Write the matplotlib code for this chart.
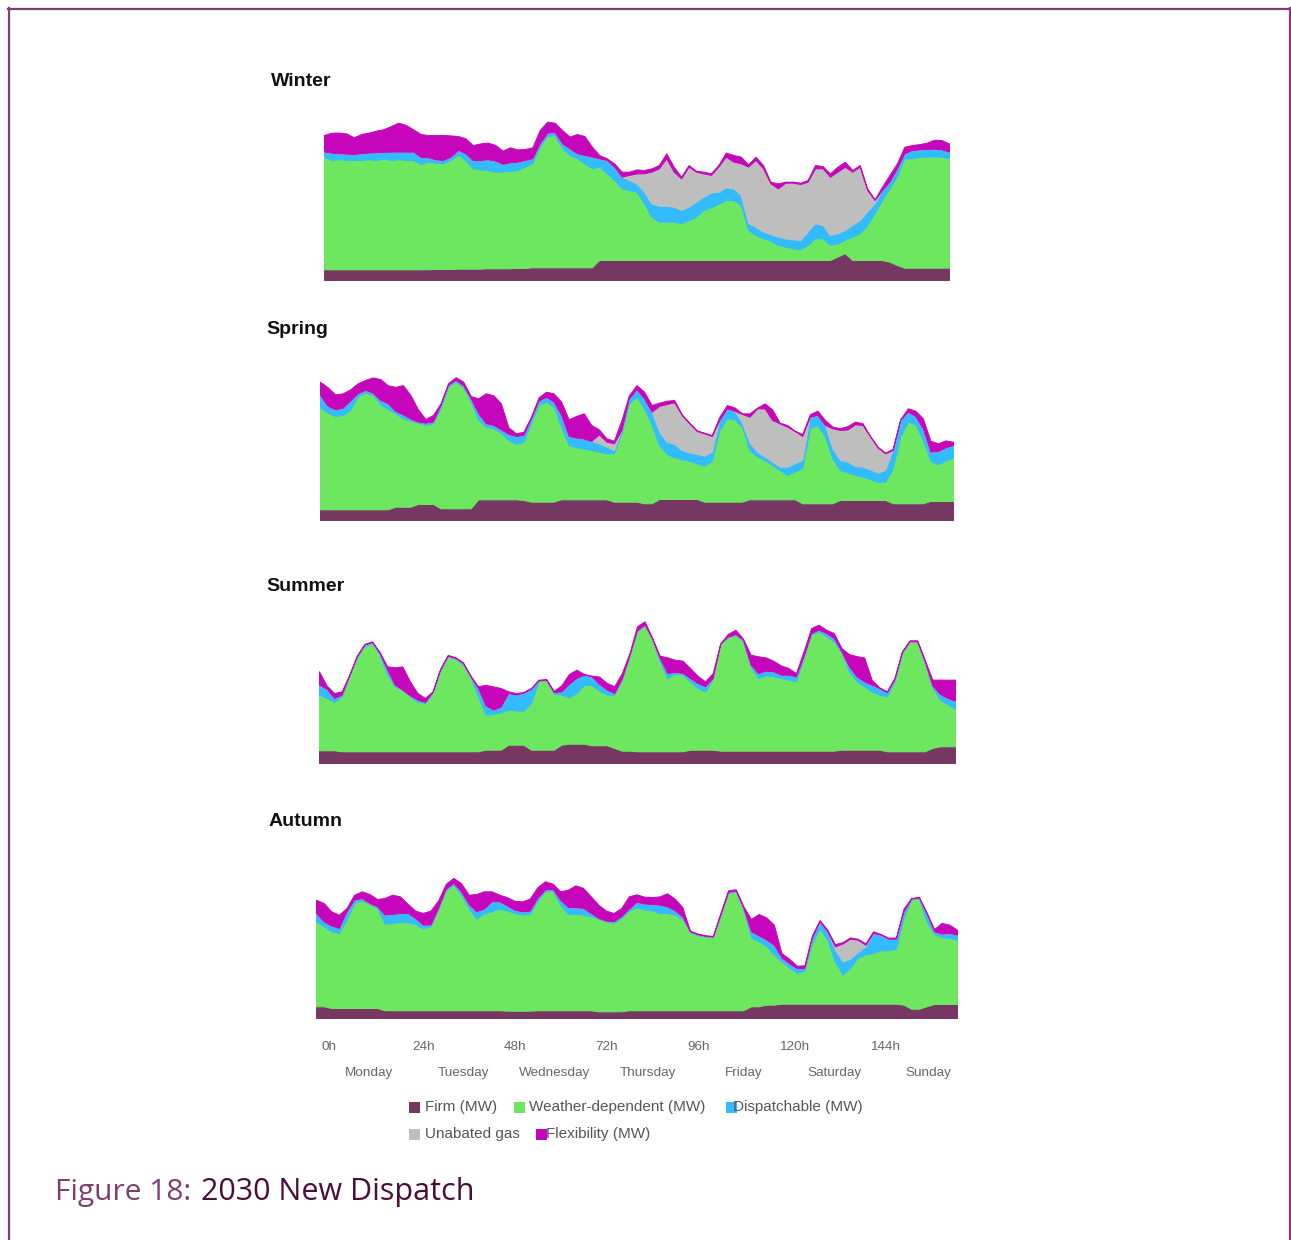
import matplotlib
matplotlib.use("Agg")
import matplotlib.pyplot as plt
from matplotlib.lines import Line2D
from matplotlib.patches import Rectangle
import matplotlib.transforms as mtransforms

# ---------------- data (arbitrary GW-like units, 2-hourly) ----------------
hours = list(range(0, 169, 2))

series_names = ["Firm (MW)", "Weather-dependent (MW)", "Dispatchable (MW)",
                "Unabated gas", "Flexibility (MW)"]
series_colors = ["#763862", "#6ee760", "#33bbff", "#bebebe", "#c606bb"]

# ---- Winter ----
winter_firm = [10.7, 10.7, 10.7, 10.7, 10.7, 10.7, 10.7, 10.7, 10.7, 10.7,
               10.7, 10.7, 10.7, 10.7, 10.7, 11, 11, 11, 11.3, 11.3,
               11.3, 11.3, 11.7, 11.7, 11.7, 11.7, 12, 12, 12.7, 12.7,
               12.7, 12.7, 12.7, 12.7, 12.7, 12.7, 12.7, 20, 20, 20,
               20, 20, 20, 20, 20, 20, 20, 20, 20, 20,
               20, 20, 20, 20, 20, 20, 20, 20, 20, 20,
               20, 20, 20, 20, 20, 20, 20, 20, 20, 23.3,
               26.7, 20, 20, 20, 20, 20, 18.3, 15, 12.3, 12.3,
               12.3, 12.3, 12.3, 12.3, 12.3]
winter_weather = [112.7, 109.3, 110, 109.3, 109.3, 109.3, 110, 109.3, 110.7, 109.3,
                  110, 109.3, 109.3, 105.3, 107.7, 106.3, 105.7, 109, 113.7, 108.7,
                  100.3, 99.3, 98.3, 96.7, 96.7, 97.3, 98, 101.3, 104, 120.7,
                  131.3, 132, 119, 112.3, 109, 104, 99, 93.3, 86.7, 80,
                  71.7, 70, 68.3, 56.7, 43.3, 38.3, 38.3, 38.3, 36.7, 40,
                  43.3, 50, 52.7, 56, 60, 60, 55, 30, 25, 21.7,
                  19.3, 15, 13.3, 11.7, 10.7, 15, 21.7, 21.7, 15, 13.3,
                  13.3, 23.3, 26.7, 35, 46.7, 60, 73.3, 88.3, 109.3, 109.3,
                  111, 111, 111.3, 111, 109.3]
winter_dispatch = [5, 7.3, 6, 6.3, 6, 6.7, 6.7, 7.7, 6.7, 8.3,
                   7.7, 8.3, 8.3, 7, 4.3, 3.3, 3.3, 3.3, 5, 6.7,
                   8.3, 9.3, 10.7, 11, 7.7, 8.7, 8.3, 6.7, 5, 3.3,
                   3.3, 3.3, 5, 6.7, 5, 8.3, 11.7, 8.3, 13.3, 13.3,
                   11.7, 10, 8.3, 11.7, 13.3, 16, 15.7, 15, 13.3, 13.3,
                   15, 13.3, 14.7, 12.3, 12.7, 11.7, 10, 6.7, 8.3, 6.7,
                   6.7, 8.3, 8.3, 9, 9.3, 13.3, 15, 13.3, 10, 10,
                   10, 11.7, 13.3, 13.3, 10, 10, 6.7, 8.3, 5, 8.3,
                   7.3, 7.7, 7.7, 7.3, 6.7]
winter_gas = [0, 0, 0, 0, 0, 0, 0, 0, 0, 0,
              0, 0, 0, 0, 0, 0, 0, 0, 0, 0,
              0, 0, 0, 0, 0, 0, 0, 0, 0, 0,
              0, 0, 0, 0, 0, 0, 0, 0, 0, 0,
              0, 5, 10, 18.3, 31.7, 37.3, 47.7, 35, 31.7, 40,
              30, 23.3, 17.7, 25, 30.7, 26.7, 31.7, 56.7, 66.7, 63.3,
              50.7, 48.3, 55.7, 56.7, 56, 50, 55, 56.7, 58.3, 61.7,
              63.3, 53.3, 53.3, 21.7, 3.3, 0, 0, 0, 0, 0,
              0, 0, 0, 0, 0]
winter_flex = [16.7, 20, 20.7, 20.3, 16.7, 19.3, 20, 21.7, 22.7, 25.7,
               29, 26.7, 22.3, 23, 22.3, 24.3, 25, 21.3, 14, 15,
               15, 16.7, 16.7, 15.7, 13.3, 15, 12.3, 11, 11, 13.3,
               11, 9.3, 13.3, 11.7, 19.3, 19, 10, 3.3, 1.7, 3.3,
               5, 3.3, 4, 3.3, 3.3, 3.3, 5, 5, 1.7, 1.7,
               1, 1.7, 1.7, 1.7, 4, 6.7, 6.7, 2.3, 3.3, 3.3,
               1.7, 5, 1, 1, 1.3, 1.7, 3.3, 2.3, 3.3, 5,
               5, 1.7, 1.7, 1.7, 0.7, 3.3, 6.7, 5, 6.7, 5,
               5.3, 6.3, 9, 9.3, 8.3]

# ---- Spring ----
spring_firm = [10.7, 10.7, 10.7, 10.7, 10.7, 10.7, 10.7, 10.7, 10.7, 10.7,
               13.3, 13.3, 13.3, 16, 16, 16, 11.7, 11.7, 11.7, 11.7,
               11.7, 20.7, 20.7, 20.7, 20.7, 20.7, 20.7, 20, 18.3, 18.3,
               18.3, 18.3, 20.7, 20.7, 20.7, 20.7, 20.7, 20.7, 20.7, 18.3,
               18.3, 18.3, 18.3, 16.7, 16.7, 21, 21, 21, 21, 21,
               21, 18.3, 18.3, 18.3, 18.3, 18.3, 18.3, 20.7, 20.7, 20.7,
               20.7, 20.7, 20.7, 20.7, 16.7, 16.7, 16.7, 16.7, 16.7, 20,
               20, 20, 20, 20, 20, 20, 16.7, 16.7, 16.7, 16.7,
               16.7, 19, 19, 19, 19]
spring_weather = [102, 96.7, 93.3, 94.3, 99.3, 112.7, 116.7, 114.3, 105.3, 100.3,
                  93.3, 88.3, 86, 81.3, 79, 80.7, 100, 121.7, 126.7, 121,
                  106.7, 79.3, 72.7, 71, 66.7, 59.3, 55.3, 58.3, 78.3, 96.7,
                  100, 95, 72.7, 54.3, 52, 50.7, 49.3, 47.7, 46, 48.3,
                  68.3, 98.3, 105, 95, 78.3, 54, 45, 41.7, 39.7, 38.3,
                  35.7, 36, 41, 71.7, 83.3, 82.3, 75, 49.3, 42.7, 39.3,
                  34.3, 29.3, 24.3, 27.7, 35, 75, 78.3, 66.7, 45, 30,
                  27.3, 25, 23.3, 20.7, 18.3, 18.3, 35, 66.7, 81.7, 79,
                  63.3, 40.3, 36.7, 40.3, 43.7]
spring_dispatch = [12.3, 6.7, 6.7, 7.3, 9.3, 3.3, 2.7, 2.3, 4, 5.7,
                   2.3, 4, 2, 1, 2.3, 1.7, 3.3, 1.7, 1.7, 2,
                   3.3, 6.7, 3.3, 3.3, 3.3, 6, 8, 6.7, 5, 4.3,
                   5, 5, 11.7, 9, 9.7, 10, 9, 8.3, 6.7, 3.3,
                   3.3, 5, 7.3, 10, 13.3, 13.3, 12.3, 13.3, 9.3, 8.3,
                   9.3, 10, 9, 10, 10, 8.7, 4, 7.3, 5, 3.3,
                   3.3, 3.3, 8.3, 8.3, 8.3, 11.7, 10, 11.7, 10, 10,
                   11, 9, 10, 10, 9, 11.7, 18.3, 16.7, 10, 8.3,
                   11.7, 9, 13.3, 13.3, 12.3]
spring_gas = [0, 0, 0, 0, 0, 0, 0, 0, 0, 0,
              0, 0, 0, 0, 0, 0, 0, 0, 0, 0,
              0, 0, 0, 0, 0, 0, 0, 0, 0, 0,
              0, 0, 0, 0, 0, 0, 0, 9, 5, 6.7,
              0, 0, 0, 0, 0, 25.7, 37.7, 41.7, 35, 29,
              23, 22.3, 15.7, 0, 0, 0, 8.7, 26, 43.3, 48.3,
              41.7, 43.3, 40, 32.3, 24, 0, 0, 0, 20, 30,
              32.3, 41.7, 41.7, 32.7, 25.3, 16.7, 0, 0, 0, 0,
              0, 0, 0, 0, 0]
spring_flex = [13.3, 18.7, 15, 14.3, 11.3, 10, 10, 15.3, 21, 18,
               24.3, 29.3, 23.7, 12.3, 3.7, 6.7, 1.7, 1.7, 2.7, 3.7,
               2.3, 15, 30, 29.7, 26, 6.7, 2.7, 3.3, 1.7, 3.3,
               5, 8.3, 13.3, 16.7, 21.7, 25.3, 16, 5, 3.3, 2.7,
               10, 3.3, 4.3, 6.7, 6.7, 3.3, 3.3, 2.3, 0.7, 0.7,
               0.7, 0.7, 1, 3.3, 3.3, 3.3, 0.7, 3.3, 0.7, 5,
               10.7, 0.7, 1.7, 0.3, 2, 2.3, 4.3, 5, 1.7, 1.7,
               3.3, 2.7, 1.7, 0.7, 0.7, 0.7, 1.3, 0.7, 3.3, 5.3,
               10, 11, 7.7, 7, 3.3]

# ---- Summer ----
summer_firm = [12.7, 12.7, 12.7, 11.7, 11.7, 11.7, 11.7, 11.7, 11.7, 11.7,
               11.7, 11.7, 11.7, 11.7, 11.7, 11.7, 11.7, 11.7, 11.7, 11.7,
               11.7, 11.7, 13.3, 13.3, 13.3, 18.3, 18.3, 18.3, 13.3, 13.3,
               13.3, 13.3, 18.3, 19.3, 19.3, 19.3, 17.7, 17.7, 17.7, 15,
               12.3, 12.3, 11.7, 11.7, 11.7, 11.7, 11.7, 11.7, 11.7, 13.3,
               13.3, 13.3, 13.3, 12.3, 12.3, 12.3, 12.3, 12.3, 12.3, 12.3,
               12.3, 12.3, 12.3, 12.3, 12.3, 12.3, 12.3, 12.3, 12.3, 13.3,
               13.3, 13.3, 13.3, 13.3, 13.3, 11.7, 11.7, 11.7, 11.7, 11.7,
               11.7, 15, 16.7, 16.7, 16.7]
summer_weather = [55.7, 52.3, 48.3, 55, 75, 94, 105, 108, 96.7, 76.7,
                  65, 61.3, 55, 49.3, 48.3, 58.3, 80, 94.7, 92.7, 86.7,
                  74, 55, 35, 36, 37.3, 35, 34.3, 34, 46.7, 68.3,
                  69.7, 56.3, 50, 46.3, 50.7, 59, 60, 54.7, 50.7, 53.3,
                  71, 94.3, 120, 126, 111.7, 90, 73.3, 77.3, 76.7, 68.3,
                  61.7, 58.3, 70, 106.7, 113.3, 116, 109.3, 84.3, 72.7, 75.3,
                  74.3, 72.7, 71, 69.3, 92.7, 116, 119.3, 114.3, 109.3, 96.7,
                  78.3, 68.3, 63.3, 58.3, 55, 55, 70, 98.3, 109.3, 109.3,
                  88.3, 60.7, 46.7, 42.3, 37.7]
summer_dispatch = [10, 9.3, 4, 1.7, 1, 1, 1.7, 1.3, 1.7, 5,
                   1.7, 0.3, 1, 2.3, 1, 1, 1.7, 0.7, 0.7, 1.7,
                   1, 8.3, 9.3, 4, 5.7, 16.7, 15.7, 18, 14.3, 1,
                   0.3, 1.3, 3.3, 13.3, 15, 10, 9, 6.7, 5, 1.7,
                   1, 1, 1, 0.7, 1, 3.3, 5, 2, 1.7, 3.3,
                   5, 5, 1.7, 0.3, 0.7, 0.7, 1.7, 1.7, 5, 4.7,
                   5, 3.3, 5, 5, 1.7, 1.7, 1.7, 3.3, 3.3, 1.7,
                   5, 5, 5, 6.7, 6.7, 4, 1.7, 1, 0.7, 0.7,
                   1.7, 2, 5.7, 6, 8]
summer_gas = [0] * 85
summer_flex = [13.3, 3.3, 5, 3.3, 0.7, 0.7, 0.7, 0.7, 1, 3.3,
               17.3, 23.3, 14, 6.7, 4, 0.7, 0.7, 1, 0.7, 0.7,
               0.7, 1.7, 20.7, 23.3, 18.7, 1.7, 1.7, 0.7, 0.7, 0.7,
               0.7, 1.3, 6, 10, 8.3, 0.7, 0.7, 7.3, 6.7, 6.7,
               5.7, 2.3, 4, 3.3, 0.7, 2.3, 15.7, 12.3, 12.3, 10,
               7.3, 5, 5, 0.3, 2.7, 4.3, 1, 10, 16.7, 13.3,
               10.7, 9.3, 6.7, 3.3, 5, 5, 5, 3.3, 5, 3.3,
               12.3, 20.3, 24, 5, 0.7, 1, 1.7, 0.7, 1, 1,
               1.7, 5.7, 14.3, 18.3, 21]

# ---- Autumn ----
autumn_firm = [11.7, 11.7, 10, 10, 10, 10, 10, 10, 10, 7.7,
               7.7, 7.7, 7.7, 7.7, 7.7, 7.7, 7.7, 7.7, 7.7, 7.7,
               7.7, 7.7, 7.7, 7.7, 7.7, 7.3, 7.3, 7.3, 7.3, 7.7,
               7.7, 7.7, 7.7, 7.7, 7.7, 7.7, 7.7, 6.7, 6.7, 6.7,
               6.7, 7.7, 7.7, 7.7, 7.7, 7.7, 7.7, 7.7, 7.7, 7.7,
               7.7, 7.7, 7.7, 7.7, 7.7, 7.7, 7.7, 11.7, 11.7, 13.3,
               13.3, 14.3, 14.3, 14.3, 14.3, 14.3, 14.3, 14.3, 14.3, 14.3,
               14.3, 14.3, 14.3, 14.3, 14.3, 14.3, 14.3, 13.3, 9.3, 9.3,
               11.7, 14, 14, 14, 14]
autumn_weather = [85, 80, 76.7, 75, 88.3, 105, 107.7, 104, 100, 86.7,
                  87.3, 88.3, 88, 86.3, 81.7, 84, 100.7, 119.7, 125.7, 115.7,
                  102.3, 91.7, 96.7, 99, 101.7, 100.3, 97.7, 96, 96.7, 109,
                  119, 119.7, 105.7, 96.3, 96.3, 95.7, 94, 92.3, 90, 88.3,
                  93.3, 99.7, 103, 100.7, 100, 97.3, 97.3, 95.7, 91.7, 78,
                  75, 73.7, 73, 94, 117.3, 119, 100.7, 69, 65, 59,
                  50, 42.3, 36.3, 30.7, 33, 60.7, 75, 64, 42.3, 29,
                  35.7, 46.3, 49, 50.7, 53.3, 53.3, 55, 86.7, 109, 110.7,
                  85, 70, 66.7, 66, 64.3]
autumn_dispatch = [8.3, 5, 5.7, 5, 8.3, 3.3, 2.3, 1, 1.7, 9,
                   9, 9, 9.3, 6, 4, 1.7, 1.7, 1.7, 1.7, 3.3,
                   4, 7.3, 5, 10, 7.3, 5, 3.3, 3.3, 3.3, 3.3,
                   1.7, 1.7, 5, 7, 6.7, 6.7, 3.3, 1, 0.7, 1.7,
                   1.7, 2, 5.3, 6, 6.3, 8.3, 6.7, 4.3, 2.3, 1,
                   1, 0.7, 0.7, 1.7, 1, 0.7, 1.7, 6, 6, 6,
                   10, 4, 4, 5, 2.7, 5.7, 7.3, 8.3, 11.7, 13.3,
                   9.3, 5.3, 8.3, 20, 15.7, 11.7, 10, 6.7, 1, 0.7,
                   8.3, 2.7, 3.7, 5, 5]
autumn_gas = [0, 0, 0, 0, 0, 0, 0, 0, 0, 0,
              0, 0, 0, 0, 0, 0, 0, 0, 0, 0,
              0, 0, 0, 0, 0, 0, 0, 0, 0, 0,
              0, 0, 0, 0, 0, 0, 0, 0, 0, 0,
              0, 0, 0, 0, 0, 0, 0, 0, 0, 0,
              0, 0, 0, 0, 0, 0, 0, 0, 0, 0,
              0, 0, 0, 0, 0, 0, 0, 0, 3.3, 18,
              20, 12.3, 1.7, 0, 0, 0, 0, 0, 0, 0,
              0, 0, 0, 0, 0]
autumn_flex = [13.3, 18.3, 14.3, 13.3, 3.3, 5, 6.7, 9, 7.3, 16.7,
               19.3, 16.7, 9.3, 7.3, 11.7, 14, 7.3, 5, 5, 8.3,
               9.3, 17.3, 17.3, 10, 6.7, 8.3, 9, 10, 12, 10.7,
               8.3, 5.3, 8.3, 17.3, 22, 20, 16.7, 13.3, 10, 8.3,
               8.3, 12.3, 7.7, 7, 7, 8.3, 13, 11.7, 9.3, 0.7,
               0.7, 0.7, 0.7, 1.7, 1.7, 1.3, 1.7, 12.3, 21.3, 22.3,
               20, 4.3, 4.7, 2.3, 2.7, 2, 1.3, 1.7, 2.3, 1.3,
               1.3, 1, 1.3, 1.7, 0.7, 1, 1.3, 2.7, 0.7, 0.3,
               0.7, 2.3, 10.7, 8.3, 5]

tick_hours = [0, 24, 48, 72, 96, 120, 144]
tick_labels = ["0h", "24h", "48h", "72h", "96h", "120h", "144h"]
day_names = ["Monday", "Tuesday", "Wednesday", "Thursday", "Friday", "Saturday", "Sunday"]
day_hours = [14, 38.5, 62.5, 87, 112, 136, 160.5]

# ---------------- figure ----------------
W, H = 1291, 1240
fig = plt.figure(figsize=(W / 100, H / 100), dpi=100)
fig.patch.set_facecolor("white")


def fx(px):
    return px / W


def fy(py):
    return 1 - py / H


panels = [
    ("Winter", [winter_firm, winter_weather, winter_dispatch, winter_gas, winter_flex],
     324, 949, 280, 271, 81),
    ("Spring", [spring_firm, spring_weather, spring_dispatch, spring_gas, spring_flex],
     320, 953, 520, 266, 330),
    ("Summer", [summer_firm, summer_weather, summer_dispatch, summer_gas, summer_flex],
     319, 955, 763, 266, 586),
    ("Autumn", [autumn_firm, autumn_weather, autumn_dispatch, autumn_gas, autumn_flex],
     316, 957, 1018, 269, 821),
]

PANEL_H = 160
axes = []
for title, data, left, right, base, tx, ty in panels:
    ax = fig.add_axes([fx(left), fy(base), (right - left) / W, PANEL_H / H])
    polys = ax.stackplot(hours, *data, colors=series_colors)
    for poly, c in zip(polys, series_colors):
        poly.set_edgecolor(c)
        poly.set_linewidth(0.7)
    ax.set_xlim(0, 168)
    ax.set_ylim(0, PANEL_H)
    for s in ax.spines.values():
        s.set_visible(False)
    ax.set_yticks([])
    ax.set_xticks([])
    fig.text(fx(tx), fy(ty), title, fontsize=14, fontweight="bold",
             family="Liberation Sans", color="#111111", ha="left", va="center")
    axes.append(ax)

# x axis labels on the bottom panel
axb = axes[-1]
axb.set_xticks(tick_hours)
axb.set_xticklabels(tick_labels, ha="left", fontsize=9.7, color="#666666",
                    family="Liberation Sans")
axb.tick_params(axis="x", length=0, pad=16.5)
offset = mtransforms.ScaledTranslation(5 / 100, 0, fig.dpi_scale_trans)
for lab in axb.get_xticklabels():
    lab.set_transform(lab.get_transform() + offset)
for name, h in zip(day_names, day_hours):
    axb.text(h, -55 / PANEL_H, name, transform=axb.get_xaxis_transform(), ha="center",
             va="center", fontsize=9.7, color="#666666", family="Liberation Sans")

# legend (manual, to match layout)
legend_items = [
    (0, 409, 1107, 425),
    (1, 514, 1107, 529),
    (2, 726, 1107, 733),
    (3, 409, 1134, 425),
    (4, 536, 1134, 546),
]
for idx, sx, sy, tx in legend_items:
    fig.add_artist(Rectangle((fx(sx), fy(sy + 5.5)), 11 / W, 11 / H,
                             transform=fig.transFigure, facecolor=series_colors[idx],
                             edgecolor="none"))
    fig.text(fx(tx), fy(sy), series_names[idx], fontsize=11, color="#555555",
             family="Liberation Sans", ha="left", va="center")

# caption
fig.text(fx(55), fy(1200), "Figure 18:", fontsize=21.5, color="#7e3f70",
         family="Open Sans", ha="left", va="baseline")
fig.text(fx(201), fy(1200), "2030 New Dispatch", fontsize=22, color="#4a0e3c",
         family="Open Sans", ha="left", va="baseline")

# frame
bc = "#7f3f72"
fig.add_artist(Line2D([fx(8.5), fx(8.5)], [fy(8), fy(1240)], transform=fig.transFigure,
                      color=bc, lw=1.6))
fig.add_artist(Line2D([fx(8), fx(1290)], [fy(8.5), fy(8.5)], transform=fig.transFigure,
                      color=bc, lw=1.6))
fig.add_artist(Line2D([fx(1289.5), fx(1289.5)], [fy(8), fy(1240)], transform=fig.transFigure,
                      color=bc, lw=1.6))

fig.savefig("out.png", dpi=100)
